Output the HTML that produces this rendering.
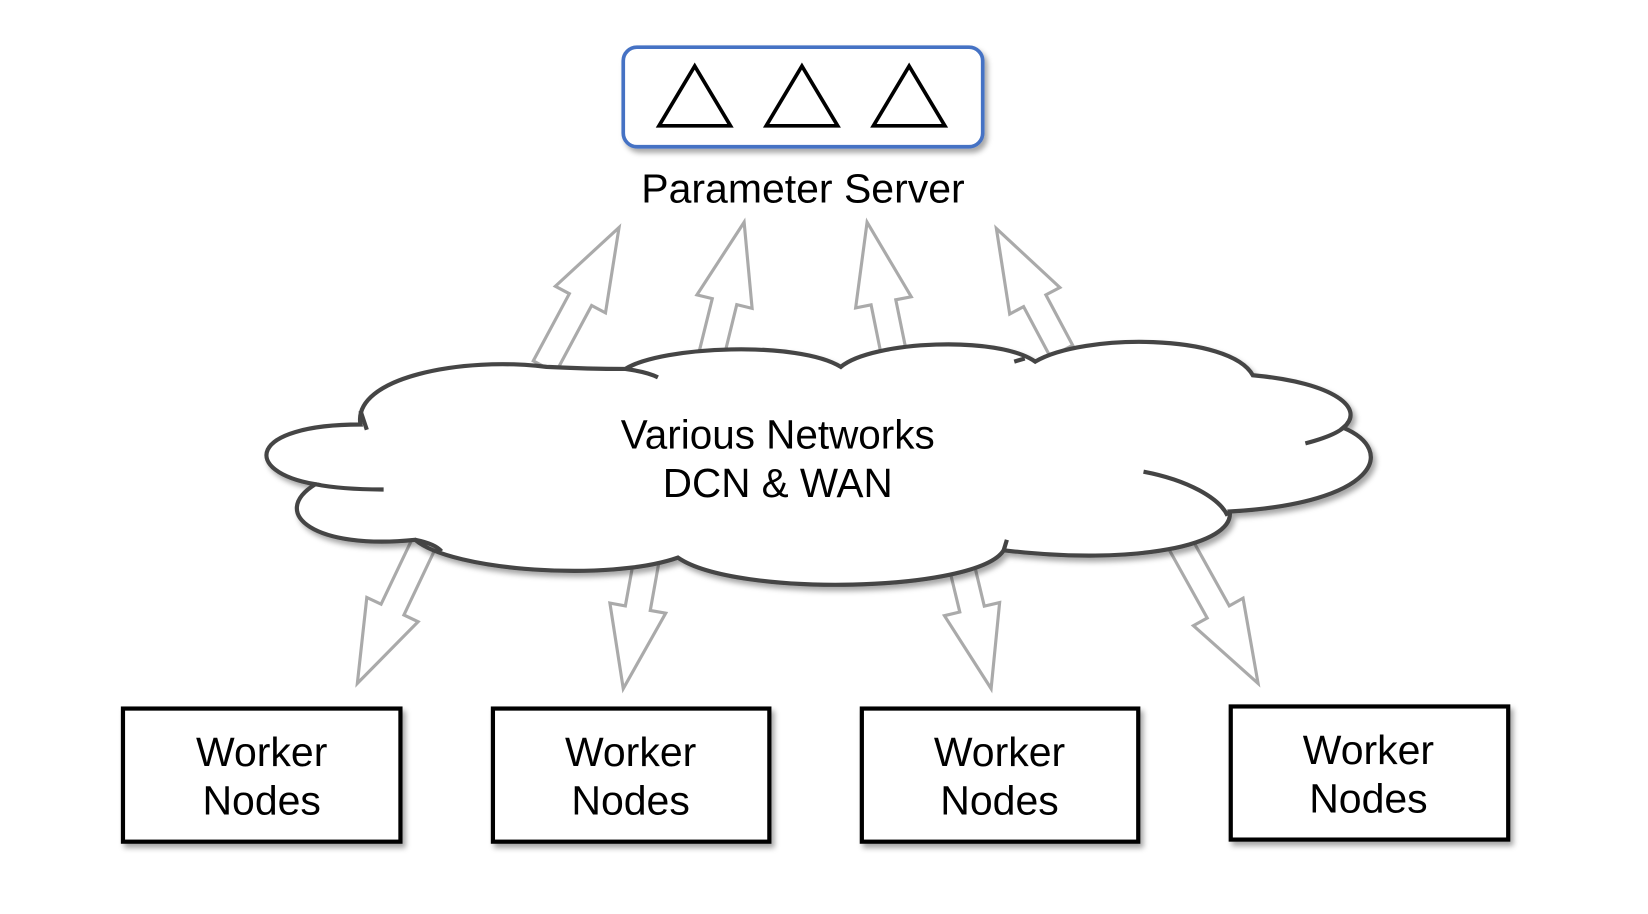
<!DOCTYPE html>
<html><head><meta charset="utf-8"><style>
html,body{margin:0;padding:0;background:#fff;}
svg{display:block;}
text{font-family:"Liberation Sans",Arial,sans-serif;fill:#000;}
</style></head><body>
<svg id="s" width="1648" height="914" viewBox="0 0 1568 872" preserveAspectRatio="none" xmlns="http://www.w3.org/2000/svg">
<defs>
<filter id="sh" x="-10%" y="-10%" width="130%" height="140%"><feDropShadow dx="3" dy="4" stdDeviation="2.5" flood-color="#000" flood-opacity="0.35"/></filter>
</defs>
<g id="arrows" fill="#fff" stroke="#aaa" stroke-width="3" stroke-linejoin="miter"></g>
<path d="M343,405 C335,360 440,340 520,350 C560,352 590,352 595,352
 C630,330 760,325 800,350 C830,325 950,320 985,345
 C1030,318 1170,318 1192,358 C1270,365 1300,390 1278,408
 C1330,430 1310,480 1170,488
 C1175,520 1080,540 955,525
 C930,565 700,570 645,532
 C580,555 430,545 395,515
 C300,525 255,490 300,462
 C230,450 235,405 343,405 Z" fill="#fff" stroke="#444" stroke-width="4" filter="url(#sh)"/>
<path d="M300,462 C320,466 340,467 365,467" fill="none" stroke="#444" stroke-width="4"/>
<path d="M343,392 L349,410" fill="none" stroke="#444" stroke-width="4"/>
<path d="M1088,450 C1130,458 1160,475 1168,492" fill="none" stroke="#444" stroke-width="4"/>
<path d="M1242,423 C1265,417 1280,410 1283,402" fill="none" stroke="#444" stroke-width="4"/>
<path d="M595,352 C610,354 620,357 626,360" fill="none" stroke="#444" stroke-width="4"/>
<path d="M395,515 C405,517 415,520 420,526" fill="none" stroke="#444" stroke-width="4"/>
<path d="M955,525 L958,515" fill="none" stroke="#444" stroke-width="4"/>
<path d="M965,345 L975,342" fill="none" stroke="#444" stroke-width="4"/>
<text x="740" y="428" font-size="38.5" text-anchor="middle">Various Networks</text>
<text x="740" y="474" font-size="38.5" text-anchor="middle">DCN &amp; WAN</text>
<rect x="593" y="45" width="342" height="95" rx="13" fill="#fff" stroke="#4472c4" stroke-width="3.5" filter="url(#sh)"/>
<g fill="none" stroke="#000" stroke-width="3.5">
<polygon points="661,63 627,120 695,120"/>
<polygon points="763,63 729,120 797,120"/>
<polygon points="865,63 831,120 899,120"/>
</g>
<text x="764" y="193" font-size="39" text-anchor="middle">Parameter Server</text>
<g fill="#fff" stroke="#000" stroke-width="4" filter="url(#sh)">
<rect x="117" y="676" width="264" height="127"/>
<rect x="469" y="676" width="263" height="127"/>
<rect x="820" y="676" width="263" height="127"/>
<rect x="1171" y="674" width="264" height="127"/>
</g>
<g font-size="39" text-anchor="middle">
<text x="249" y="731">Worker</text><text x="249" y="777">Nodes</text>
<text x="600" y="731">Worker</text><text x="600" y="777">Nodes</text>
<text x="951" y="731">Worker</text><text x="951" y="777">Nodes</text>
<text x="1302" y="729">Worker</text><text x="1302" y="775">Nodes</text>
</g>
</svg>
<script>
var A=[[518,350,589,217],[677,338,708,212],[850,335,825,212],[1010,335,948,218],
[405,515,340,652],[615,535,593,657],[915,540,943,657],[1122,517,1197,652]];
var g=document.getElementById('arrows'),h='';
A.forEach(function(a){var dx=a[2]-a[0],dy=a[3]-a[1],L=Math.hypot(dx,dy),ux=dx/L,uy=dy/L,px=-uy,py=ux;
var sw=12,hw=27,hl=78,bx=a[2]-ux*hl,by=a[3]-uy*hl;
function P(x,y){return x.toFixed(1)+','+y.toFixed(1);}
var pts=[P(a[0]+px*sw,a[1]+py*sw),P(bx+px*sw,by+py*sw),P(bx+px*hw,by+py*hw),P(a[2],a[3]),
P(bx-px*hw,by-py*hw),P(bx-px*sw,by-py*sw),P(a[0]-px*sw,a[1]-py*sw)];
h+='<polygon points="'+pts.join(' ')+'"/>';});
g.innerHTML=h;
</script>
</body></html>
